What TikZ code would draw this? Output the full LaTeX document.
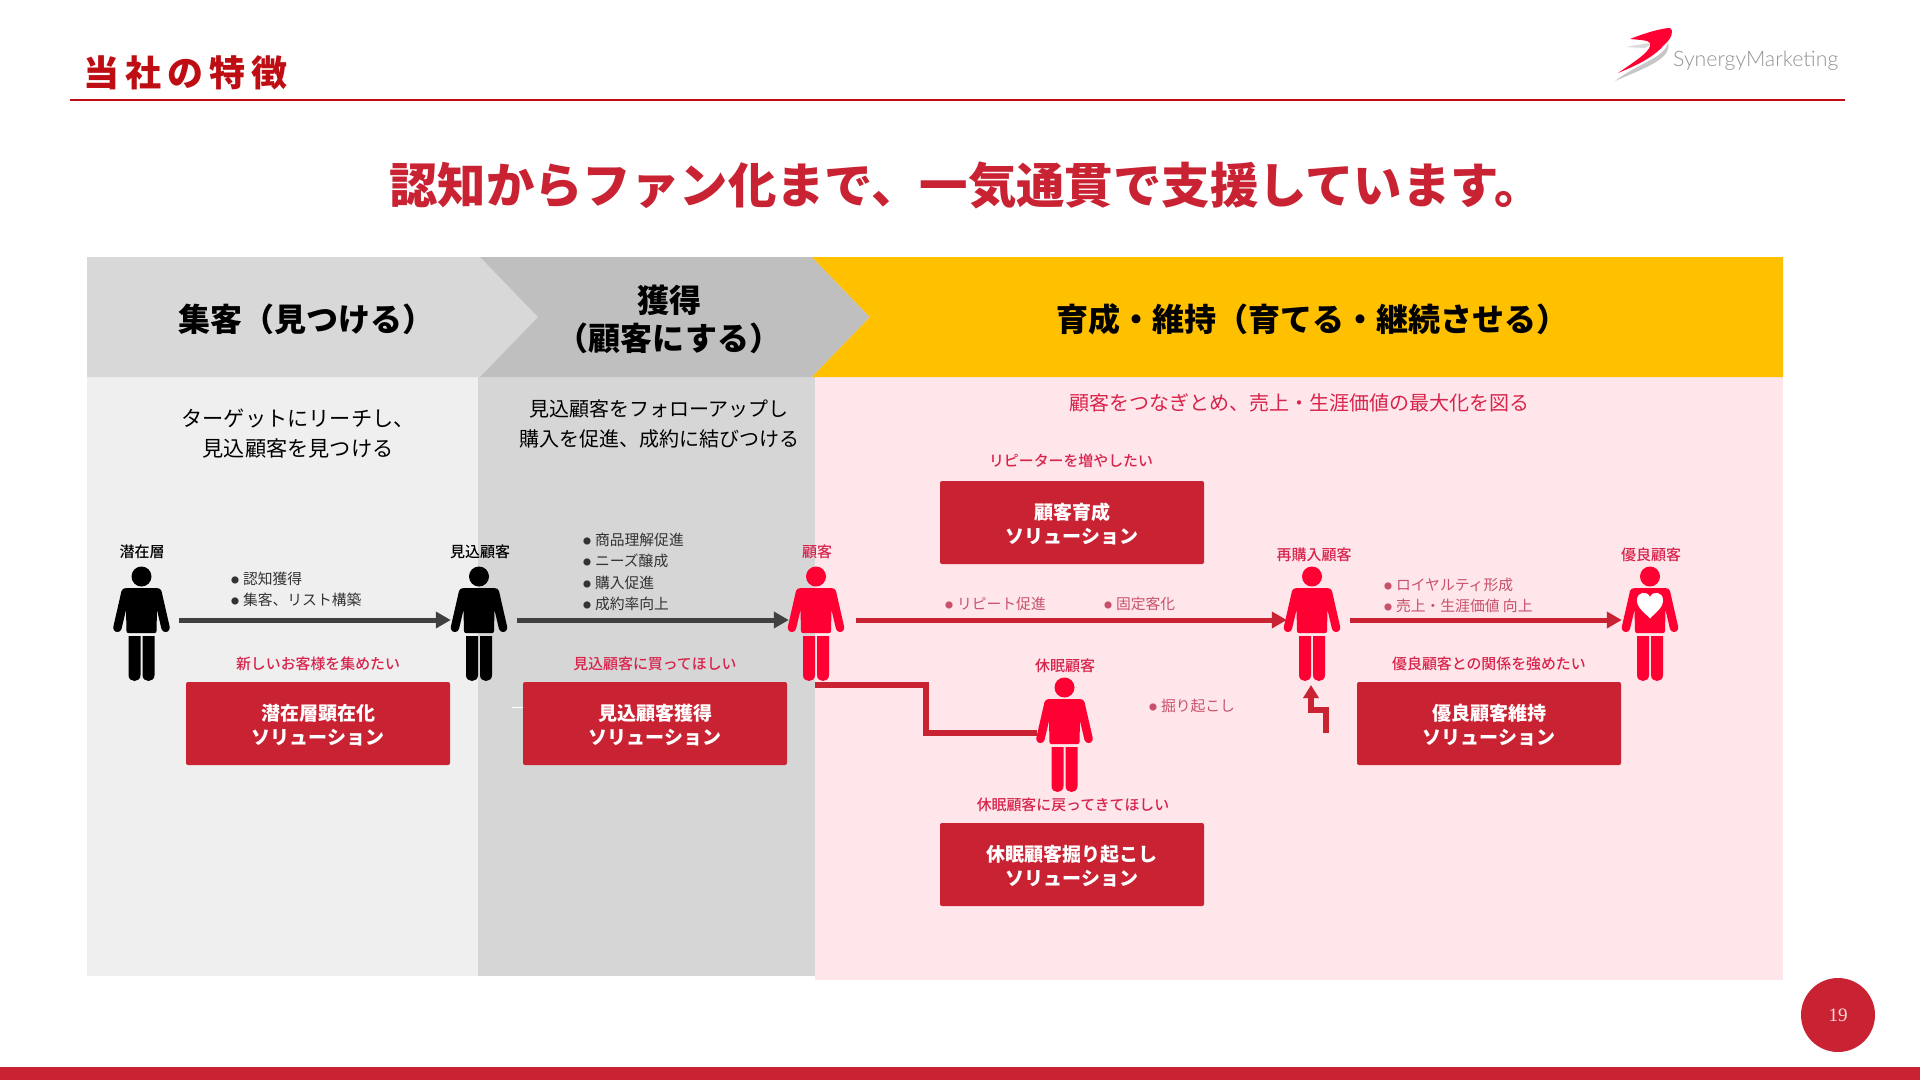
\documentclass[tikz,border=0pt]{standalone}
\usepackage{fontspec}
\setmainfont{Noto Sans CJK JP}[BoldFont={Noto Sans CJK JP Black}]
\newfontfamily\midfont{Noto Sans CJK JP Medium}
\newcommand{\blt}{\makebox[12pt][l]{\raisebox{1pt}{\fontsize{8}{8}\selectfont ●}}}
\usetikzlibrary{arrows.meta}
\definecolor{barred}{HTML}{C92333}
\definecolor{titlered}{HTML}{BE0E14}
\definecolor{figred}{HTML}{FF0033}
\definecolor{pinktxt}{HTML}{D8244C}
\definecolor{softtxt}{HTML}{C9506A}
\definecolor{panela}{HTML}{EFEFEF}
\definecolor{panelb}{HTML}{D6D6D6}
\definecolor{panelc}{HTML}{FEE6EA}
\definecolor{heada}{HTML}{D8D8D8}
\definecolor{headb}{HTML}{BFBFBF}
\definecolor{headc}{HTML}{FFC000}
\definecolor{darkline}{HTML}{404040}
\tikzset{
 x=1pt,y=-1pt,
 solbox/.style={fill=barred,rounded corners=2pt,minimum width=264pt,minimum height=83pt,inner sep=0pt},
 soltxt/.style={inner sep=0pt,text=white,align=center,font=\fontsize{19}{24}\selectfont\bfseries},
 headtxt/.style={align=center,font=\fontsize{32}{38}\selectfont\bfseries,text=black},
 desctxt/.style={align=center,font=\fontsize{20}{30}\selectfont,text=black},
 needtxt/.style={font=\fontsize{14.9}{18}\midfont,text=pinktxt},
 persontxt/.style={font=\fontsize{15}{18}\midfont},
 bullettxt/.style={anchor=west,align=left,font=\fontsize{14.8}{21.2}\selectfont},
 personbox/.style={minimum width=56pt,minimum height=100pt,inner sep=0pt},
 flow/.style={line width=5pt,-{Triangle[length=15pt,width=16pt]}},
 elbow/.style={line width=5.5pt,barred,line join=miter},
 pics/figure/.style={code={
   \fill[#1] (0,-43.5) circle[radius=10];
   \fill[#1] (-15,-32) -- (15,-32) .. controls (18,-32) and (19,-31) .. (20,-29)
     -- (28,6) .. controls (29,9) and (27,12) .. (24,12) .. controls (22,12) and (21,11) .. (20,9)
     -- (15.5,-10) -- (15,11) .. controls (15,12.5) and (14,13) .. (13,13) -- (-13,13) .. controls (-14,13) and (-15,12.5) .. (-15,11)
     -- (-15.5,-10) -- (-20,9) .. controls (-21,11) and (-22,12) .. (-24,12) .. controls (-27,12) and (-29,9) .. (-28,6)
     -- (-20,-29) .. controls (-19,-31) and (-18,-32) .. (-15,-32) -- cycle;
   \fill[#1] (-13,16) -- (-1,16) -- (-1,55) .. controls (-1,59) and (-4,61) .. (-7,61) .. controls (-10,61) and (-13,59) .. (-13,55) -- cycle;
   \fill[#1] (1,16) -- (13,16) -- (13,55) .. controls (13,59) and (10,61) .. (7,61) .. controls (4,61) and (1,59) .. (1,55) -- cycle;
 }}
}
\begin{document}
\begin{tikzpicture}
\useasboundingbox (0,0) rectangle (1920,1080);
\fill[white] (0,0) rectangle (1920,1080);
% header
\node[anchor=west,inner sep=0pt,text=titlered,font=\fontsize{36}{40}\selectfont\bfseries] (sect) at (83,73) {当\hspace{6pt}社\hspace{6pt}の\hspace{6pt}特\hspace{6pt}徴};
\draw[titlered,line width=2pt] (70,100) -- (1845,100);
% logo
\fill[gray!45] (1615,81) .. controls (1640,62) and (1665,58) .. (1668,42) .. controls (1672,58) and (1650,66) .. (1615,81) -- cycle;
\fill[gray!30] (1626,47) -- (1655,42) -- (1645,48) -- cycle;
\fill[figred] (1618,73) .. controls (1640,58) and (1652,50) .. (1650,43) .. controls (1648,40) and (1640,40) .. (1630,39) .. controls (1645,33) and (1662,28) .. (1670,28) .. controls (1674,30) and (1672,38) .. (1665,44) .. controls (1655,56) and (1640,64) .. (1618,73) -- cycle;
\node[anchor=west,inner sep=0pt,text=gray!85,font=\fontspec{Lato Light}\fontsize{21.3}{24}\selectfont] (logo) at (1673,61) {SynergyMarketing};
% headline
\node[inner sep=0pt,text=barred,font=\fontsize{48.4}{54}\selectfont\bfseries] (headline) at (966,185) {認知からファン化まで、一気通貫で支援しています。};
% panels
\fill[panela] (87,377) rectangle (478,976);
\fill[panelb] (478,377) rectangle (815,976);
\fill[panelc] (815,377) rectangle (1783,980);
% chevrons
\fill[heada] (87,257) -- (480,257) -- (538,317) -- (480,377) -- (87,377) -- cycle;
\fill[headb] (480,257) -- (812,257) -- (870,317) -- (812,377) -- (480,377) -- (538,317) -- cycle;
\fill[headc] (812,257) -- (1783,257) -- (1783,377) -- (812,377) -- (870,317) -- cycle;
\node[headtxt] (h1) at (306.5,319) {集客（見つける）};
\node[headtxt] (h2) at (669,319) {獲得\\（顧客にする）};
\node[headtxt] (h3) at (1312,319) {育成・維持（育てる・継続させる）};
\node[desctxt,font=\fontsize{21.2}{30}\selectfont] (d1) at (298,434) {ターゲットにリーチし、\\見込顧客を見つける};
\node[desctxt] (d2) at (659,424) {見込顧客をフォローアップし\\購入を促進、成約に結びつける};
\node[desctxt,text=pinktxt] (d3) at (1299,403) {顧客をつなぎとめ、売上・生涯価値の最大化を図る};
% people
\node[personbox] (p1) at (141.5,620) {};
\node[personbox] (p2) at (479,620) {};
\node[personbox] (p3) at (816,620) {};
\node[personbox] (p4) at (1312,620) {};
\node[personbox] (p5) at (1650,620) {};
\node[personbox] (p6) at (1064.5,731) {};
\pic at (141.5,620) {figure=black};
\pic at (479,620) {figure=black};
\pic at (816,620) {figure=figred};
\pic at (1312,620) {figure=figred};
\pic at (1650,620) {figure=figred};
\pic at (1064.5,731) {figure=figred};
\fill[white] (1650,618.5) .. controls (1644,612) and (1637,608) .. (1637,600) .. controls (1637,592) and (1647,590) .. (1650,597) .. controls (1653,590) and (1663,592) .. (1663,600) .. controls (1663,608) and (1656,612) .. (1650,618.5) -- cycle;
\node[persontxt,text=black] (l1) at (142,552) {潜在層};
\node[persontxt,text=black] (l2) at (480,552) {見込顧客};
\node[persontxt,text=pinktxt] (l3) at (817,552) {顧客};
\node[persontxt,text=pinktxt] (l4) at (1314,555) {再購入顧客};
\node[persontxt,text=pinktxt] (l5) at (1651,555) {優良顧客};
\node[persontxt,text=pinktxt] (l6) at (1065,666) {休眠顧客};
% flows
\draw[flow,darkline,shorten <=9pt,shorten >=0pt] (p1.east) -- (p2.west);
\draw[flow,darkline,shorten <=10pt,shorten >=-1pt] (p2.east) -- (p3.west);
\draw[flow,barred,shorten <=12pt,shorten >=-3pt] (p3.east) -- (p4.west);
\draw[flow,barred,shorten <=10pt,shorten >=0pt] (p4.east) -- (p5.west);
\coordinate (e1) at (815,685);
\coordinate (e2) at (926,685);
\coordinate (e3) at (926,733);
\coordinate (e4) at (1037,733);
\draw[elbow] (e1) -- (e2) -- (e3) -- (e4);
\coordinate (u1) at (1326,733);
\coordinate (u2) at (1326,710);
\coordinate (u3) at (1311,710);
\coordinate (u4) at (1311,685);
\draw[elbow,-{Triangle[length=13pt,width=15pt]}] (u1) -- (u2) -- (u3) -- (u4);
% bullets
\node[bullettxt,text=black!80] (b1) at (227.5,589) {\blt 認知獲得\\\blt 集客、リスト構築};
\node[bullettxt,text=black!80] (b2) at (579.5,572) {\blt 商品理解促進\\\blt ニーズ醸成\\\blt 購入促進\\\blt 成約率向上};
\node[bullettxt,text=softtxt] (b3) at (941.5,604) {\blt リピート促進};
\node[bullettxt,text=softtxt] (b4) at (1100.5,604) {\blt 固定客化};
\node[bullettxt,text=softtxt] (b5) at (1145.5,706) {\blt 掘り起こし};
\node[bullettxt,text=softtxt] (b6) at (1380.5,595) {\blt ロイヤルティ形成\\\blt 売上・生涯価値 向上};
% needs
\node[needtxt] (n1) at (318,664) {新しいお客様を集めたい};
\node[needtxt] (n2) at (655,664) {見込顧客に買ってほしい};
\node[needtxt] (n3) at (1071,461) {リピーターを増やしたい};
\node[needtxt] (n4) at (1073,805) {休眠顧客に戻ってきてほしい};
\node[needtxt] (n5) at (1489,664) {優良顧客との関係を強めたい};
% solution boxes
\node[solbox] (s1) at (318,723.5) {};
\node[solbox] (s2) at (655,723.5) {};
\node[solbox] (s3) at (1072,522.5) {};
\node[solbox] (s4) at (1072,864.5) {};
\node[solbox] (s5) at (1489,723.5) {};
\node[soltxt] (t1) at ([yshift=-1.2pt]s1.center) {潜在層顕在化\\ソリューション};
\node[soltxt] (t2) at ([yshift=-1.2pt]s2.center) {見込顧客獲得\\ソリューション};
\node[soltxt] (t3) at ([yshift=-1.2pt]s3.center) {顧客育成\\ソリューション};
\node[soltxt] (t4) at ([yshift=-1.2pt]s4.center) {休眠顧客掘り起こし\\ソリューション};
\node[soltxt] (t5) at ([yshift=-1.2pt]s5.center) {優良顧客維持\\ソリューション};
\draw[white,line width=1pt] (512,707) -- (523,707);
% footer
\fill[barred] (0,1066.5) rectangle (1920,1080);
\node[circle,fill=barred,minimum size=74pt,inner sep=0pt,text=white!85!barred,font=\fontspec{Liberation Serif}\fontsize{19}{20}\selectfont] (page) at (1838,1015) {19};
\end{tikzpicture}
\end{document}
